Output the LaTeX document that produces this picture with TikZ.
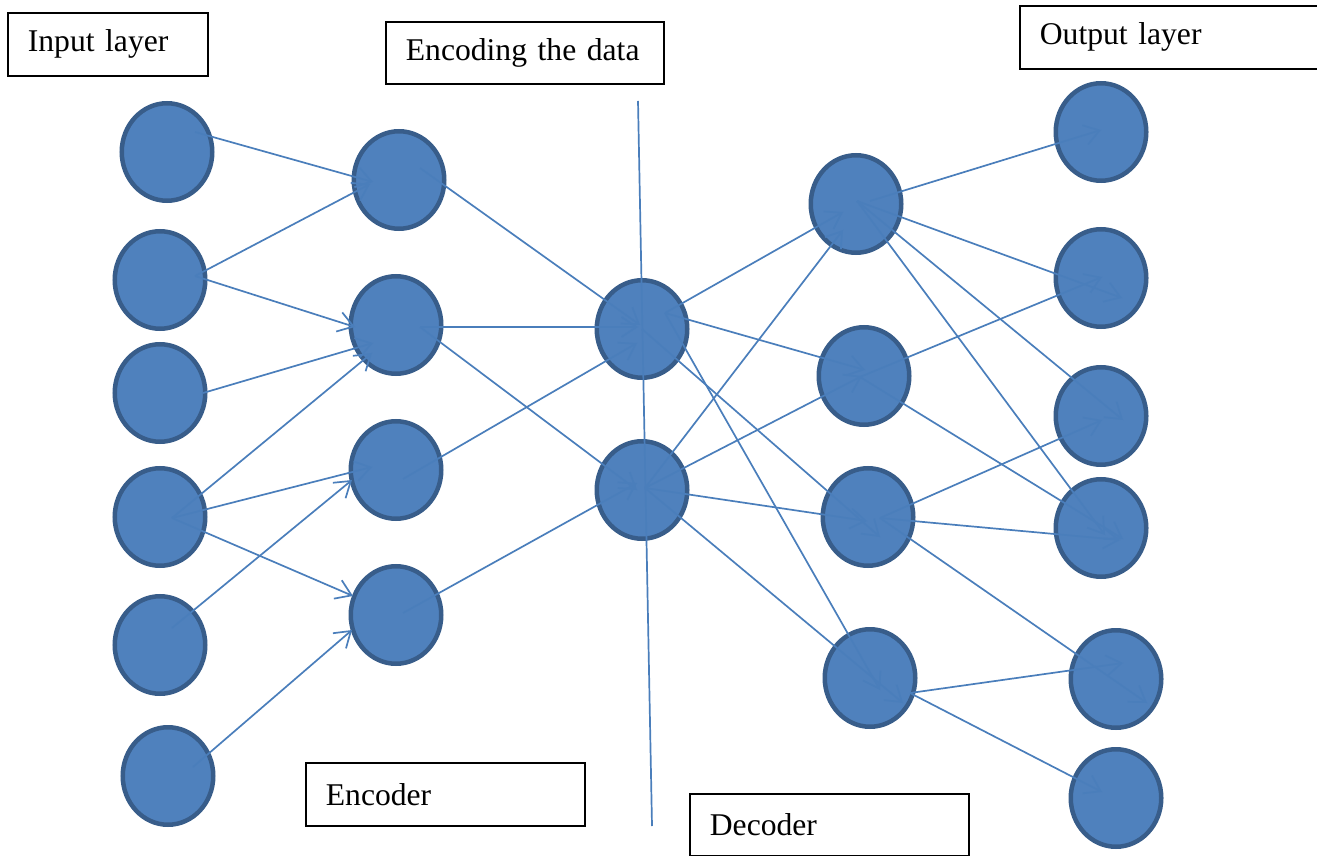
\documentclass[tikz,border=0pt]{standalone}
\usepackage{fontspec}
\setmainfont{Liberation Serif}
\usetikzlibrary{arrows.meta,shapes.geometric}
\definecolor{unitfill}{HTML}{4F81BD}
\definecolor{unitline}{HTML}{385D8A}
\definecolor{linkblue}{HTML}{4A7EBB}

\begin{document}
\begin{tikzpicture}[
  x=0.2mm,y=-0.2mm,
  font=\fontsize{18}{22}\selectfont,>={Straight Barb[length=3mm,width=4mm]},
  unit/.style={ellipse,draw=unitline,fill=unitfill,line width=0.9mm,
               minimum width=18.1mm,minimum height=19.5mm,inner sep=0pt},
  link/.style={->,draw=linkblue,line width=0.34mm},
  lbl/.style={draw=black,line width=0.35mm,anchor=north west,align=left,
              inner xsep=4mm,inner ysep=0pt,minimum height=12.6mm},
]
\useasboundingbox (0,0) rectangle (1317,856);

% ---- labels ------------------------------------------------------------
\node[lbl,text width=32mm] (inp) at (7,12) {Input layer};
\node[lbl,text width=47.6mm,minimum height=12.4mm] (enc) at (385,21) {Encoding the data};
\node[lbl,text width=52mm] (outp) at (1019,5) {Output layer};
\node[lbl,text width=47.8mm] (encoder) at (305,762) {Encoder};
\node[lbl,text width=47.8mm,minimum height=12.4mm] (decoder) at (689,793) {Decoder};

% ---- units -------------------------------------------------------------
\node[unit] (i1) at (167,152) {};
\node[unit] (i2) at (160,280) {};
\node[unit] (i3) at (160,393) {};
\node[unit] (i4) at (160,517) {};
\node[unit] (i5) at (160,645) {};
\node[unit] (i6) at (168,776) {};

\node[unit] (e1) at (399,180) {};
\node[unit] (e2) at (396,325) {};
\node[unit] (e3) at (396,470) {};
\node[unit] (e4) at (396,615) {};

\node[unit] (m1) at (642,329) {};
\node[unit] (m2) at (642,490) {};

\node[unit] (d1) at (856,204) {};
\node[unit] (d2) at (864,376) {};
\node[unit] (d3) at (868,517) {};
\node[unit] (d4) at (870,678) {};

\node[unit] (o1) at (1101,132) {};
\node[unit] (o2) at (1101,278) {};
\node[unit] (o3) at (1101,416) {};
\node[unit] (o4) at (1101,528) {};
\node[unit] (o5) at (1116,679) {};
\node[unit] (o6) at (1116,798) {};

% ---- split line between encoder and decoder ----------------------------
\coordinate (splittop) at (638,101);
\coordinate (splitbot) at (652,826);
\draw[linkblue,line width=0.34mm] (splittop) -- (splitbot);

% ---- input -> encoder --------------------------------------------------
\draw[link] ([shift={(28,-20)}]i1.center) -- ([shift={(-26,2)}]e1.center);
\draw[link] ([shift={(35,-4)}]i2.center) -- ([shift={(-29,4)}]e1.center);
\draw[link] ([shift={(35,-4)}]i2.center) -- ([shift={(-41,2)}]e2.center);
\draw[link] ([shift={(43,0)}]i3.center) -- ([shift={(-23,18)}]e2.center);
\draw[link] ([shift={(12,1)}]i4.center) -- ([shift={(-24,28)}]e2.center);
\draw[link] ([shift={(12,1)}]i4.center) -- ([shift={(-24,-3)}]e3.center);
\draw[link] ([shift={(12,1)}]i4.center) -- ([shift={(-43,-19)}]e4.center);
\draw[link] ([shift={(12,-17)}]i5.center) -- ([shift={(-44,10)}]e3.center);
\draw[link] ([shift={(25,-9)}]i6.center) -- ([shift={(-44,15)}]e4.center);

% ---- encoder -> code ---------------------------------------------------
\draw[link] ([shift={(21,-12)}]e1.center) -- ([shift={(-2,-4)}]m1.center);
\draw[link] ([shift={(24,2)}]e2.center) -- ([shift={(-4,-2)}]m1.center);
\draw[link] ([shift={(24,2)}]e2.center) -- ([shift={(-5,0)}]m2.center);
\draw[link] ([shift={(7,9)}]e3.center) -- ([shift={(-5,14)}]m1.center);
\draw[link] ([shift={(7,-2)}]e4.center) -- ([shift={(-5,-7)}]m2.center);

% ---- code -> decoder ---------------------------------------------------
\draw[link] ([shift={(23,-16)}]m1.center) -- ([shift={(-13,8)}]d1.center);
\draw[link] ([shift={(23,-16)}]m1.center) -- ([shift={(1,-6)}]d2.center);
\draw[link] (m1.center) -- ([shift={(12,20)}]d3.center);
\draw[link] ([shift={(23,-16)}]m1.center) -- ([shift={(10,12)}]d4.center);
\draw[link] ([shift={(3,-2)}]m2.center) -- ([shift={(-13,26)}]d1.center);
\draw[link] ([shift={(3,-2)}]m2.center) -- ([shift={(-2,0)}]d2.center);
\draw[link] ([shift={(3,-2)}]m2.center) -- ([shift={(-1,4)}]d3.center);
\draw[link] ([shift={(3,-2)}]m2.center) -- ([shift={(33,25)}]d4.center);

% ---- decoder -> output -------------------------------------------------
\draw[link] ([shift={(14,-3)}]d1.center) -- ([shift={(0,-2)}]o1.center);
\draw[link] ([shift={(1,-3)}]d1.center) -- ([shift={(21,20)}]o2.center);
\draw[link] ([shift={(1,-3)}]d1.center) -- ([shift={(22,4)}]o3.center);
\draw[link] ([shift={(1,-3)}]d1.center) -- ([shift={(4,7)}]o4.center);
\draw[link] ([shift={(-4,1)}]d2.center) -- ([shift={(1,-1)}]o2.center);
\draw[link] ([shift={(-4,1)}]d2.center) -- ([shift={(22,11)}]o4.center);
\draw[link] ([shift={(12,1)}]d3.center) -- ([shift={(1,4)}]o3.center);
\draw[link] ([shift={(12,1)}]d3.center) -- ([shift={(19,12)}]o4.center);
\draw[link] ([shift={(12,1)}]d3.center) -- ([shift={(31,24)}]o5.center);
\draw[link] ([shift={(40,15)}]d4.center) -- ([shift={(7,-16)}]o5.center);
\draw[link] ([shift={(40,15)}]d4.center) -- ([shift={(-14,-6)}]o6.center);
\end{tikzpicture}
\end{document}
